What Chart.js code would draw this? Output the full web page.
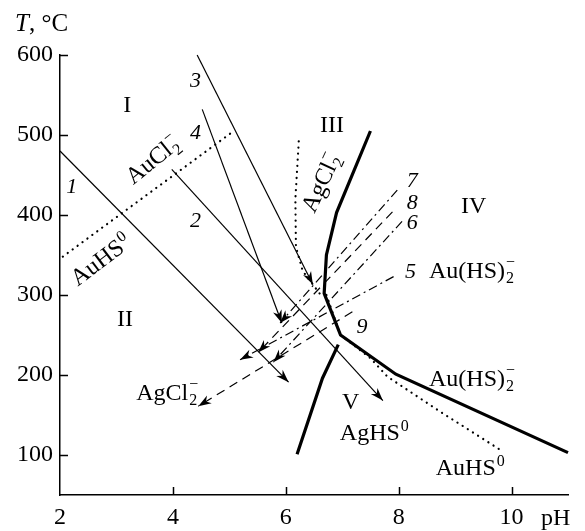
<!DOCTYPE html>
<html>
<head>
<meta charset="utf-8">
<script src="https://cdn.jsdelivr.net/npm/chart.js@4.4.0/dist/chart.umd.min.js"></script>
<style>
  html, body { margin: 0; padding: 0; background: #fff; }
  #wrap { width: 585px; height: 531px; }
</style>
</head>
<body>
<div id="wrap"><canvas id="phaseChart"></canvas></div>
<script>
// ==================== Data ====================
const xTicks = [2, 4, 6, 8, 10];
const yTicks = [100, 200, 300, 400, 500, 600];
const innerXTicks = [4, 6, 8, 10];

// thick field boundaries
const boundaryUpper = [[7.5, 505], [6.9, 403], [6.72, 350], [6.68, 302], [6.97, 250], [7.95, 201], [11, 103]];
const boundaryLower = [[6.2, 101], [6.65, 196], [6.93, 238]];

// dotted boundaries
const auhsAuclDotted = [[2.05, 348], [5.02, 502]];
const agclDotted = [[6.23, 492], [6.17, 420], [6.18, 360], [6.3, 330], [6.62, 300]];
const auhsDotted = [[6.72, 300], [6.97, 250], [7.5, 221], [7.8, 198], [8.74, 154], [9.81, 106]];

// paths 1-9, start -> arrow end
const path1 = [[2, 480], [6.05, 191]];
const path2 = [[3.98, 457], [7.72, 168]];
const path3 = [[4.43, 600], [6.48, 313]];
const path4 = [[4.52, 532], [5.93, 265]];
const path5 = [[7.91, 323], [5.19, 219]];
const path6 = [[8.06, 392], [5.78, 216]];
const path7 = [[7.975, 431], [5.9, 265]];
const path8 = [[7.89, 404], [5.51, 228]];
const path9 = [[7.18, 279], [4.45, 161]];

// region numerals
const regionText = ['I', 'II', 'III', 'IV', 'V'];
const regionX = [3.19, 3.15, 6.82, 9.33, 7.15];
const regionY = [537, 269, 512, 410, 165];

// path numbers
const pathText = ['1', '2', '3', '4', '5', '6', '7', '8', '9'];
const pathX = [2.21, 4.4, 4.4, 4.4, 8.21, 8.24, 8.24, 8.24, 7.35];
const pathY = [435, 392, 567, 502, 329, 390, 442, 415, 260];

// species names
const speciesBase = ['AuCl', 'AuHS', 'AgCl', 'AgCl', 'Au(HS)', 'Au(HS)', 'AgHS', 'AuHS'];
const speciesSub = ['2', '', '2', '2', '2', '2', '', ''];
const speciesSup = ['\u2212', '0', '\u2212', '\u2212', '\u2212', '\u2212', '0', '0'];
const speciesX = [3.63, 2.71, 6.61, 3.89, 9.29, 9.29, 7.56, 9.26];
const speciesY = [469, 344, 440, 179, 331, 196, 129, 85];
const speciesAngle = [-39, -37, -65, 0, 0, 0, 0, 0];

// ==================== Helpers ====================
const FONT = '"Liberation Serif", "Times New Roman", serif';
const toPts = arr => arr.map(p => ({ x: p[0], y: p[1] }));

function lineSet(data, width, dash, arrow) {
    return {
        data: toPts(data),
        showLine: true,
        borderColor: '#000',
        borderWidth: width,
        borderDash: dash,
        borderCapStyle: dash.length === 2 && dash[0] < 1 ? 'round' : 'butt',
        pointRadius: 0,
        fill: false,
        clip: false,
        arrow: arrow
    };
}

const DOT = [0.1, 6];
const DASH = [9, 6];
const DASHDOT = [9, 4, 2, 4];

function drawSpecies(ctx, base, sub, sup, px, py, angle) {
    ctx.save();
    ctx.translate(px, py);
    ctx.rotate(angle * Math.PI / 180);
    ctx.fillStyle = '#000';
    ctx.textBaseline = 'alphabetic';
    ctx.textAlign = 'left';
    ctx.font = '24px ' + FONT;
    const bw = ctx.measureText(base).width;
    ctx.font = '16px ' + FONT;
    const sw = Math.max(sub ? ctx.measureText(sub).width : 0, sup ? ctx.measureText(sup).width : 0);
    const x0 = -(bw + sw) / 2;
    ctx.font = '24px ' + FONT;
    ctx.fillText(base, x0, 8);
    ctx.font = '16px ' + FONT;
    if (sub) ctx.fillText(sub, x0 + bw + 1, 13);
    if (sup) ctx.fillText(sup, x0 + bw + 1, sup === '0' ? -1 : -3);
    ctx.restore();
}

function drawArrow(ctx, tip, prev) {
    const a = Math.atan2(tip.y - prev.y, tip.x - prev.x);
    const len = 13, half = 4.5, notch = 9;
    ctx.save();
    ctx.translate(tip.x, tip.y);
    ctx.rotate(a);
    ctx.fillStyle = '#000';
    ctx.beginPath();
    ctx.moveTo(0, 0);
    ctx.lineTo(-len, -half);
    ctx.lineTo(-notch, 0);
    ctx.lineTo(-len, half);
    ctx.closePath();
    ctx.fill();
    ctx.restore();
}

// ==================== Annotation plugin ====================
const annotations = {
    id: 'annotations',
    afterDatasetsDraw(chart) {
        const ctx = chart.ctx;
        const xs = chart.scales.x, ys = chart.scales.y;
        const area = chart.chartArea;

        // arrowheads
        chart.data.datasets.forEach((ds, i) => {
            if (!ds.arrow) return;
            const pts = chart.getDatasetMeta(i).data;
            drawArrow(ctx, pts[pts.length - 1], pts[pts.length - 2]);
        });

        // inward ticks
        ctx.save();
        ctx.strokeStyle = '#000';
        ctx.lineWidth = 1.5;
        ctx.beginPath();
        yTicks.forEach(v => {
            const py = Math.round(ys.getPixelForValue(v)) + 0.5;
            ctx.moveTo(area.left, py);
            ctx.lineTo(area.left + 8, py);
        });
        innerXTicks.forEach(v => {
            const px = Math.round(xs.getPixelForValue(v)) + 0.5;
            ctx.moveTo(px, area.bottom);
            ctx.lineTo(px, area.bottom - 8);
        });
        ctx.stroke();
        ctx.restore();

        // text
        ctx.save();
        ctx.fillStyle = '#000';
        ctx.textAlign = 'center';
        ctx.textBaseline = 'middle';
        ctx.font = '24px ' + FONT;
        regionText.forEach((t, i) => {
            ctx.fillText(t, xs.getPixelForValue(regionX[i]), ys.getPixelForValue(regionY[i]));
        });
        ctx.font = 'italic 22px ' + FONT;
        pathText.forEach((t, i) => {
            ctx.fillText(t, xs.getPixelForValue(pathX[i]), ys.getPixelForValue(pathY[i]));
        });
        ctx.restore();

        speciesBase.forEach((b, i) => {
            drawSpecies(ctx, b, speciesSub[i], speciesSup[i],
                xs.getPixelForValue(speciesX[i]), ys.getPixelForValue(speciesY[i]), speciesAngle[i]);
        });

        // axis titles
        ctx.save();
        ctx.fillStyle = '#000';
        ctx.textBaseline = 'alphabetic';
        ctx.textAlign = 'left';
        ctx.font = 'italic 25px ' + FONT;
        ctx.fillText('T', 15, 31);
        const tw = ctx.measureText('T').width;
        ctx.font = '25px ' + FONT;
        ctx.fillText(', \u00B0C', 15 + tw, 31);
        ctx.font = '24px ' + FONT;
        ctx.fillText('pH', 541, 525);
        ctx.restore();
    }
};

// ==================== Chart ====================
const ctx = document.getElementById('phaseChart').getContext('2d');
const phaseChart = new Chart(ctx, {
    type: 'scatter',
    data: {
        datasets: [
            lineSet(boundaryUpper, 3.2, [], false),
            lineSet(boundaryLower, 3.2, [], false),
            lineSet(auhsAuclDotted, 2.2, DOT, false),
            lineSet(agclDotted, 2.2, DOT, false),
            lineSet(auhsDotted, 2.2, DOT, false),
            lineSet(path1, 1.2, [], true),
            lineSet(path2, 1.2, [], true),
            lineSet(path3, 1.2, [], true),
            lineSet(path4, 1.2, [], true),
            lineSet(path5, 1.2, DASHDOT, true),
            lineSet(path6, 1.2, DASHDOT, true),
            lineSet(path7, 1.2, DASHDOT, true),
            lineSet(path8, 1.2, DASH, true),
            lineSet(path9, 1.2, DASH, true)
        ]
    },
    options: {
        responsive: true,
        maintainAspectRatio: false,
        animation: false,
        layout: { padding: { top: 55, right: 17, left: 0, bottom: 0 } },
        plugins: {
            legend: { display: false },
            tooltip: { enabled: false }
        },
        scales: {
            x: {
                type: 'linear',
                min: 2,
                max: 11,
                afterBuildTicks: axis => { axis.ticks = xTicks.map(v => ({ value: v })); },
                afterFit: axis => { axis.height = 36; },
                ticks: {
                    color: '#000',
                    padding: 8,
                    maxRotation: 0,
                    font: { family: FONT, size: 24 }
                },
                grid: { drawOnChartArea: false, drawTicks: false },
                border: { color: '#000', width: 1.5 }
            },
            y: {
                type: 'linear',
                min: 50,
                max: 600,
                afterBuildTicks: axis => { axis.ticks = yTicks.map(v => ({ value: v })); },
                afterFit: axis => { axis.width = 60; },
                ticks: {
                    color: '#000',
                    padding: 7,
                    font: { family: FONT, size: 24 }
                },
                grid: { drawOnChartArea: false, drawTicks: false },
                border: { color: '#000', width: 1.5 }
            }
        }
    },
    plugins: [annotations]
});
</script>
</body>
</html>
